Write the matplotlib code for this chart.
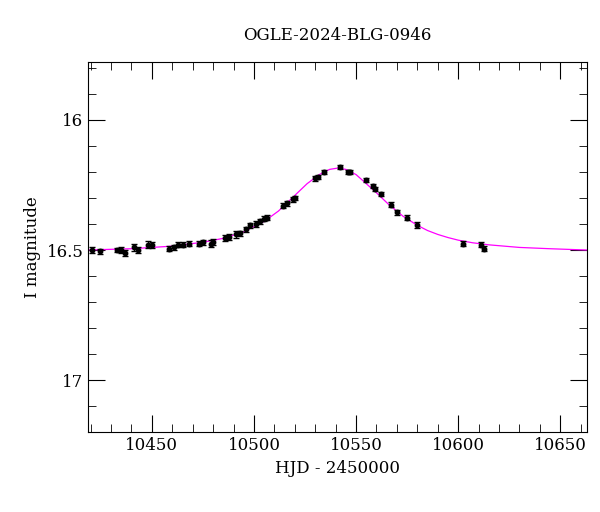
import matplotlib
matplotlib.use("Agg")
import matplotlib.pyplot as plt
from matplotlib.ticker import MultipleLocator

# Observed photometry (HJD - 2450000, I mag, error)
hjd = [10420.8, 10424.7, 10433.0, 10435.0, 10437.0, 10441.0, 10443.0, 10448.0, 10450.0,
       10458.5, 10461.0, 10463.0, 10465.0, 10468.0, 10473.0, 10475.0, 10479.0, 10480.0,
       10486.0, 10488.0, 10491.0, 10493.0, 10496.0, 10498.0, 10501.0, 10503.0, 10505.0,
       10506.5, 10514.0, 10516.0, 10519.0, 10520.0, 10530.0, 10531.5, 10534.5, 10542.0,
       10546.0, 10547.0, 10555.0, 10558.5, 10559.5, 10562.0, 10567.0, 10570.0, 10575.0,
       10580.0, 10602.6, 10611.0, 10612.5]
mag = [16.50, 16.505, 16.50, 16.50, 16.51, 16.49, 16.50, 16.48, 16.48,
       16.495, 16.49, 16.48, 16.48, 16.475, 16.475, 16.47, 16.475, 16.47,
       16.455, 16.45, 16.44, 16.435, 16.42, 16.405, 16.40, 16.39, 16.38,
       16.375, 16.33, 16.32, 16.305, 16.30, 16.225, 16.22, 16.20, 16.18,
       16.20, 16.20, 16.23, 16.255, 16.265, 16.285, 16.325, 16.355, 16.375,
       16.405, 16.475, 16.48, 16.495]
err = [0.010, 0.010, 0.008, 0.010, 0.012, 0.012, 0.010, 0.014, 0.012,
       0.010, 0.010, 0.010, 0.010, 0.010, 0.010, 0.010, 0.014, 0.012,
       0.012, 0.010, 0.012, 0.010, 0.010, 0.010, 0.010, 0.010, 0.010,
       0.008, 0.010, 0.010, 0.010, 0.008, 0.008, 0.008, 0.008, 0.008,
       0.008, 0.008, 0.008, 0.008, 0.008, 0.008, 0.010, 0.010, 0.010,
       0.012, 0.010, 0.010, 0.010]

# Model curve
model_t = [10418, 10440, 10460, 10475, 10485, 10495, 10505, 10512, 10520, 10526, 10532,
           10537, 10541, 10545, 10550, 10555, 10560, 10566, 10573, 10580, 10585, 10590,
           10595, 10600, 10607, 10615, 10630, 10645, 10663]
model_m = [16.50, 16.495, 16.485, 16.47, 16.455, 16.43, 16.39, 16.35, 16.29, 16.245, 16.21,
           16.19, 16.185, 16.19, 16.21, 16.245, 16.28, 16.325, 16.37, 16.405, 16.425, 16.44,
           16.452, 16.462, 16.472, 16.48, 16.49, 16.495, 16.50]

plt.rcParams["font.family"] = "DejaVu Serif"
fig, ax = plt.subplots(figsize=(6, 5.12), dpi=100)
fig.subplots_adjust(left=0.147, right=0.978, top=0.879, bottom=0.156)

ax.plot(model_t, model_m, color="magenta", linewidth=0.9)
ax.errorbar(hjd, mag, yerr=err, fmt="o", color="black", markersize=3.2,
            elinewidth=0.9, capsize=2.5)

ax.set_xlim(10418.8, 10663)
ax.set_ylim(17.2, 15.777)
ax.xaxis.set_major_locator(MultipleLocator(50))
ax.xaxis.set_minor_locator(MultipleLocator(10))
ax.yaxis.set_major_locator(MultipleLocator(0.5))
ax.yaxis.set_minor_locator(MultipleLocator(0.1))
ax.yaxis.set_major_formatter(plt.FuncFormatter(lambda v, p: f"{v:g}"))
ax.tick_params(which="both", direction="in", top=True, right=True, labelsize=12)
ax.tick_params(which="major", length=12)
ax.tick_params(which="minor", length=6)

ax.set_xlabel("HJD - 2450000", fontsize=12)
ax.set_ylabel("I magnitude", fontsize=12)
ax.set_title("OGLE-2024-BLG-0946", fontsize=12, pad=16)

fig.savefig("out.png")
